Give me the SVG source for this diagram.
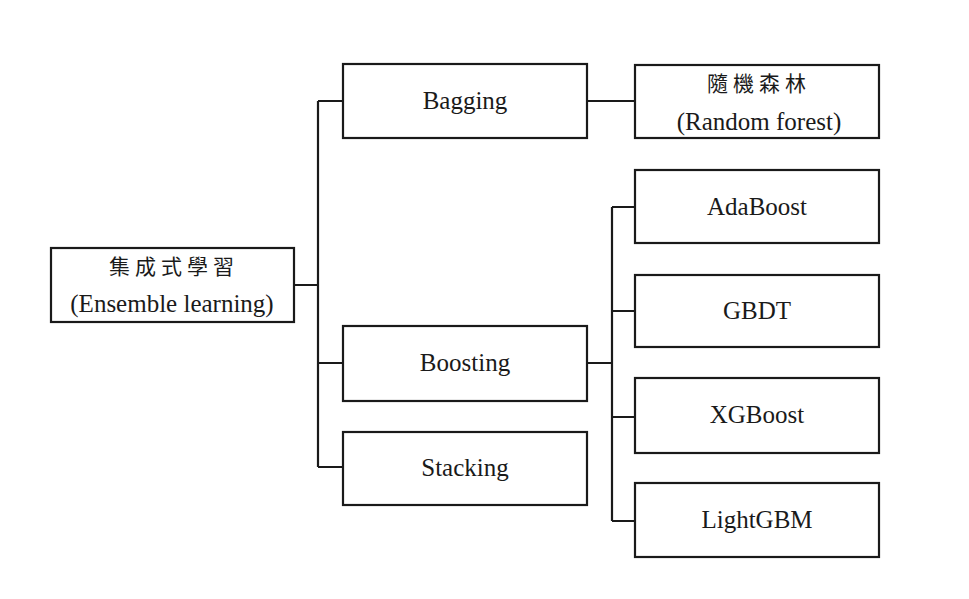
<svg xmlns="http://www.w3.org/2000/svg" width="969" height="599" viewBox="0 0 969 599">
<style>
.box{fill:#fff;stroke:#1a1a1a;stroke-width:2.2}
.t{font-family:"Liberation Serif","Times New Roman",serif;font-size:25px;fill:#1a1a1a;text-anchor:middle}
.c{font-family:"Noto Sans CJK TC","Noto Sans CJK SC",sans-serif;font-size:21px;fill:#1a1a1a;text-anchor:middle;letter-spacing:5px}
.ln{fill:none;stroke:#1a1a1a;stroke-width:2.2}
</style>
<rect width="969" height="599" fill="#fff"/>
<g id="connectors">
<path class="ln" d="M294 285H318M318 101V467M318 101H343M318 363H343M318 467H343"/>
<path class="ln" d="M587 101H635"/>
<path class="ln" d="M587 363H612M612 207V521M612 207H635M612 311H635M612 417H635M612 521H635"/>
</g>
<g id="ensemble"><rect class="box" x="51" y="248" width="243" height="74"/>
<text class="c" x="174" y="274">集成式學習</text>
<text class="t" x="172" y="312">(Ensemble learning)</text></g>
<g id="bagging"><rect class="box" x="343" y="64" width="244" height="74"/><text class="t" x="465" y="109">Bagging</text></g>
<g id="randomforest"><rect class="box" x="635" y="65" width="244" height="73"/>
<text class="c" x="759" y="91">隨機森林</text>
<text class="t" x="759" y="130">(Random forest)</text></g>
<g id="boosting"><rect class="box" x="343" y="326" width="244" height="75"/><text class="t" x="465" y="371">Boosting</text></g>
<g id="stacking"><rect class="box" x="343" y="432" width="244" height="73"/><text class="t" x="465" y="476">Stacking</text></g>
<g id="adaboost"><rect class="box" x="635" y="170" width="244" height="73"/><text class="t" x="757" y="215">AdaBoost</text></g>
<g id="gbdt"><rect class="box" x="635" y="275" width="244" height="72"/><text class="t" x="757" y="319">GBDT</text></g>
<g id="xgboost"><rect class="box" x="635" y="378" width="244" height="75"/><text class="t" x="757" y="423">XGBoost</text></g>
<g id="lightgbm"><rect class="box" x="635" y="483" width="244" height="74"/><text class="t" x="757" y="528">LightGBM</text></g>
</svg>
